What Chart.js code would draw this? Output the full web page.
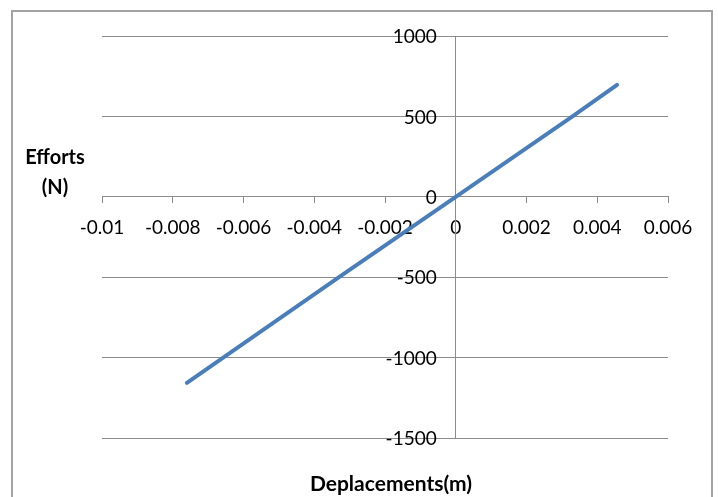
<!DOCTYPE html>
<html>
<head>
<meta charset="utf-8">
<script src="https://cdn.jsdelivr.net/npm/chart.js@4/dist/chart.umd.min.js"></script>
<style>
  body { margin: 0; background: #fff; }
  #wrap { width: 718px; height: 497px; }
</style>
</head>
<body>
<div id="wrap"><canvas id="effortsChart" width="718" height="497"></canvas></div>
<script>
// Donnees
const deplacements = [-0.0076, -0.0033, 0, 0.0033, 0.00456];
const efforts = [-1157, -500, 0, 500, 696];
const xTicks = [-0.01, -0.008, -0.006, -0.004, -0.002, 0, 0.002, 0.004, 0.006];
const yTicks = [-1500, -1000, -500, 0, 500, 1000];
const xTitle = 'Deplacements(m)';
const yTitle = ['Efforts', '(N)'];

const gris = '#8c8c8c';
const tickFont = { family: 'Lato, "Liberation Sans", sans-serif', size: 19 };
const titleFont = 'bold 20px Lato, "Liberation Sans", sans-serif';
const xTitleFont = 'bold 21px Lato, "Liberation Sans", sans-serif';

// Cadre, etiquettes de l'axe Y (a gauche de l'axe) et titres horizontaux
const decor = {
    id: 'decor',
    afterDraw(chart) {
        const ctx = chart.ctx;
        const xs = chart.scales.x, ys = chart.scales.y;
        ctx.save();
        ctx.strokeStyle = '#a3a3a3';
        ctx.lineWidth = 2;
        ctx.strokeRect(12, 11, 700, 600);

        ctx.fillStyle = '#000';
        ctx.font = tickFont.size + 'px ' + tickFont.family;
        ctx.textAlign = 'right';
        ctx.textBaseline = 'middle';
        const x0 = xs.getPixelForValue(0);
        yTicks.forEach(v => {
            ctx.fillText(String(v), x0 - 19, ys.getPixelForValue(v) + 1);
        });

        ctx.font = titleFont;
        ctx.textAlign = 'center';
        ctx.fillText(yTitle[0], 55, 158);
        ctx.fillText(yTitle[1], 55, 188);
        ctx.font = xTitleFont;
        ctx.fillText(xTitle, 391, 484);
        ctx.restore();
    }
};

new Chart(document.getElementById('effortsChart'), {
    type: 'scatter',
    data: {
        datasets: [{
            data: deplacements.map((x, i) => ({ x: x, y: efforts[i] })),
            showLine: true,
            borderColor: '#4a7ebb',
            borderWidth: 4,
            pointRadius: 0,
            borderCapStyle: 'round'
        }]
    },
    options: {
        responsive: false,
        animation: false,
        layout: { padding: { left: 102, right: 50, top: 36, bottom: 59 } },
        plugins: { legend: { display: false }, tooltip: { enabled: false } },
        scales: {
            x: {
                type: 'linear',
                position: { y: 0 },
                min: -0.01,
                max: 0.006,
                afterBuildTicks: s => { s.ticks = xTicks.map(v => ({ value: v })); },
                afterFit: s => { s.height = 0; },
                grid: { drawOnChartArea: false, drawTicks: true, tickLength: 6, color: gris },
                border: { display: true, color: gris, width: 1 },
                ticks: {
                    color: '#000',
                    font: tickFont,
                    padding: 14,
                    maxRotation: 0,
                    autoSkip: false,
                    callback: v => String(Number(v.toFixed(3)))
                }
            },
            y: {
                type: 'linear',
                position: { x: 0 },
                min: -1500,
                max: 1000,
                afterBuildTicks: s => { s.ticks = yTicks.map(v => ({ value: v })); },
                afterFit: s => { s.width = 0; },
                grid: { drawOnChartArea: true, drawTicks: false, color: gris },
                border: { display: true, color: gris, width: 1 },
                ticks: { display: false }
            }
        }
    },
    plugins: [decor]
});
</script>
</body>
</html>
